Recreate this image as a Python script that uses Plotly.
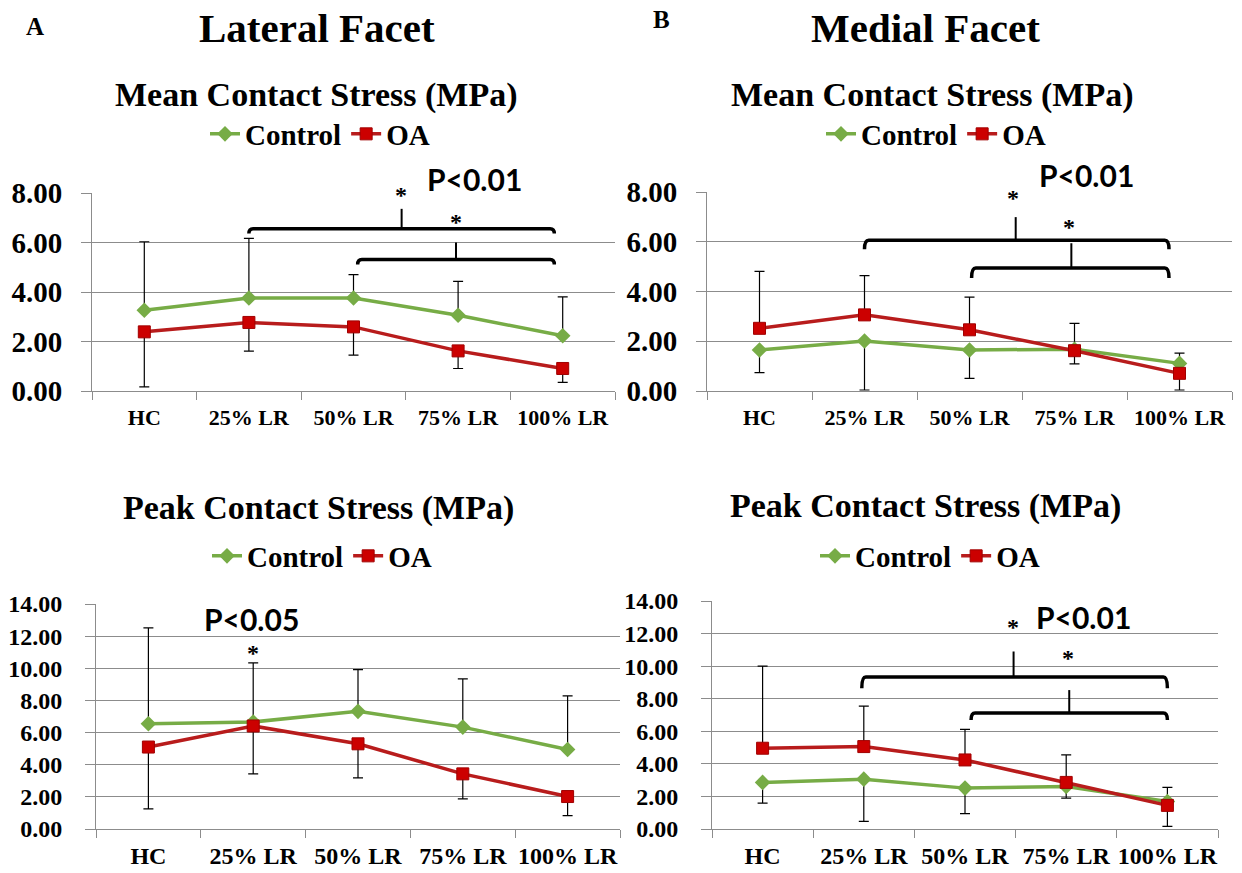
import plotly.graph_objects as go

# ---- data -------------------------------------------------------------
categories = ["HC", "25% LR", "50% LR", "75% LR", "100% LR"]

# Lateral facet, mean contact stress (MPa)
lat_mean_ctrl = [3.26, 3.76, 3.76, 3.06, 2.23]
lat_mean_oa = [2.39, 2.77, 2.59, 1.62, 0.91]
lat_mean_ctrl_up = [2.77, 2.41, 0.94, 1.37, 1.57]
lat_mean_ctrl_dn = [0, 0, 0, 0, 0]
lat_mean_oa_up = [0, 0, 0, 0, 0]
lat_mean_oa_dn = [2.22, 1.16, 1.14, 0.71, 0.56]

# Medial facet, mean contact stress (MPa)
med_mean_ctrl = [1.65, 2.01, 1.65, 1.68, 1.11]
med_mean_oa = [2.52, 3.06, 2.46, 1.62, 0.71]
med_mean_ctrl_up = [0, 0, 0, 1.04, 0.41]
med_mean_ctrl_dn = [0.91, 1.97, 1.14, 0, 0]
med_mean_oa_up = [2.29, 1.58, 1.31, 0, 0]
med_mean_oa_dn = [0, 0, 0, 0.53, 0.67]

# Lateral facet, peak contact stress (MPa)
lat_peak_ctrl = [6.55, 6.66, 7.32, 6.34, 4.95]
lat_peak_oa = [5.10, 6.41, 5.30, 3.43, 2.02]
lat_peak_ctrl_up = [5.97, 3.68, 2.60, 3.00, 3.33]
lat_peak_ctrl_dn = [0, 0, 0, 0, 0]
lat_peak_oa_up = [0, 0, 0, 0, 0]
lat_peak_oa_dn = [3.85, 2.98, 2.12, 1.56, 1.19]

# Medial facet, peak contact stress (MPa)
med_peak_ctrl = [2.86, 3.06, 2.51, 2.61, 1.69]
med_peak_oa = [4.96, 5.06, 4.24, 2.86, 1.45]
med_peak_ctrl_up = [0, 0, 0, 0, 0.86]
med_peak_ctrl_dn = [1.27, 2.59, 1.57, 0.71, 0]
med_peak_oa_up = [5.04, 2.49, 1.88, 1.69, 0]
med_peak_oa_dn = [0, 0, 0, 0, 1.29]

# significance brackets: (axis, left, right, level, hook end, spike x, spike top)
brackets = [
    ("", 1.00, 3.92, 6.56, 6.36, 2.46, 7.36),
    ("", 2.04, 3.92, 5.31, 5.11, 2.98, 6.00),
    ("2", 1.00, 3.90, 6.06, 5.70, 2.44, 6.99),
    ("2", 2.02, 3.90, 4.94, 4.54, 2.97, 5.94),
    ("4", 0.98, 4.00, 9.33, 8.65, 2.48, 10.90),
    ("4", 2.06, 4.00, 7.12, 6.69, 3.03, 8.53),
]
# asterisks: (axis, x, y)
stars = [
    ("", 2.45, 8.13), ("", 2.98, 7.04),
    ("2", 2.41, 7.95), ("2", 2.95, 6.79),
    ("3", 1.00, 11.25),
    ("4", 2.47, 12.70), ("4", 3.02, 10.80),
]
# p-value labels: (axis, text, x, y)
pvals = [
    ("", "P<0.01", 3.16, 8.57),
    ("2", "P<0.01", 3.11, 8.67),
    ("3", "P<0.05", 0.98, 13.06),
    ("4", "P<0.01", 3.17, 13.00),
]

# ---- styling ----------------------------------------------------------
GREEN = "#77AC46"
RED_LINE = "#B81C1C"
RED_MARK = "#CC0000"
GRID = "#8C8C8C"
SERIF = "Liberation Serif"

panels = [
    # (axis suffix, legend name, ctrl, ctrl_up, ctrl_dn, oa, oa_up, oa_dn)
    ("", "legend", lat_mean_ctrl, lat_mean_ctrl_up, lat_mean_ctrl_dn,
     lat_mean_oa, lat_mean_oa_up, lat_mean_oa_dn),
    ("2", "legend2", med_mean_ctrl, med_mean_ctrl_up, med_mean_ctrl_dn,
     med_mean_oa, med_mean_oa_up, med_mean_oa_dn),
    ("3", "legend3", lat_peak_ctrl, lat_peak_ctrl_up, lat_peak_ctrl_dn,
     lat_peak_oa, lat_peak_oa_up, lat_peak_oa_dn),
    ("4", "legend4", med_peak_ctrl, med_peak_ctrl_up, med_peak_ctrl_dn,
     med_peak_oa, med_peak_oa_up, med_peak_oa_dn),
]
y_max = {"": 8, "2": 8, "3": 14, "4": 14}

W, H = 1242, 873


def px_x(v):
    return v / W


def px_y(v):
    return 1 - v / H


# plot-area boxes in pixels: (left, right, top, bottom)
boxes = {
    "": (92, 615, 193, 391),
    "2": (707, 1232, 192, 391),
    "3": (96, 620, 604, 829),
    "4": (712, 1218, 601, 829),
}

fig = go.Figure()

for sfx, leg, c, cu, cd, o, ou, od in panels:
    err_style = dict(type="data", symmetric=False, color="black",
                     thickness=1.2, width=5)
    fig.add_trace(go.Scatter(
        x=categories, y=c, name="Control", mode="lines+markers",
        line=dict(color=GREEN, width=3.5),
        marker=dict(symbol="diamond", size=12, color=GREEN),
        error_y=dict(array=cu, arrayminus=cd, **err_style),
        xaxis="x" + sfx, yaxis="y" + sfx, legend=leg,
    ))
    fig.add_trace(go.Scatter(
        x=categories, y=o, name="OA", mode="lines+markers",
        line=dict(color=RED_LINE, width=3.5),
        marker=dict(symbol="square", size=12, color=RED_MARK,
                    line=dict(color="#A00000", width=1)),
        error_y=dict(array=ou, arrayminus=od, **err_style),
        xaxis="x" + sfx, yaxis="y" + sfx, legend=leg,
    ))

layout = dict(
    width=W, height=H, margin=dict(l=0, r=0, t=0, b=0),
    paper_bgcolor="white", plot_bgcolor="white",
    showlegend=True,
)

ytick_size = {"": 29, "2": 29, "3": 24, "4": 24}
xtick_size = {"": 22, "2": 22, "3": 24, "4": 24}
ytick_pad = {"": 13, "2": 13, "3": 18, "4": 18}
xtick_pad = {"": 7, "2": 7, "3": 5, "4": 5}
for sfx, (l, r, t, b) in boxes.items():
    layout["xaxis" + sfx] = dict(
        domain=[px_x(l), px_x(r)], anchor="y" + sfx,
        type="category", range=[-0.5, 4.5], tickson="boundaries",
        showline=True, linecolor=GRID, linewidth=1,
        ticks="outside", ticklen=8, tickcolor=GRID, tickwidth=1,
        showgrid=False, ticklabelstandoff=xtick_pad[sfx], tickangle=0,
        automargin=False,
        tickfont=dict(family=SERIF, size=xtick_size[sfx], color="black",
                      weight="bold"),
    )
    layout["yaxis" + sfx] = dict(
        domain=[px_y(b), px_y(t)], anchor="x" + sfx,
        range=[0, y_max[sfx]], dtick=2, tickformat=".2f",
        showline=True, linecolor=GRID, linewidth=1,
        ticks="outside", ticklen=10, tickcolor=GRID, tickwidth=1,
        showgrid=True, gridcolor=GRID, gridwidth=1, zeroline=False,
        ticklabelstandoff=ytick_pad[sfx], automargin=False,
        tickfont=dict(family=SERIF, size=ytick_size[sfx], color="black",
                      weight="bold"),
    )

legend_pos = {
    "legend": (320, 134), "legend2": (936, 134),
    "legend3": (322, 556), "legend4": (930, 556),
}
for name, (lx, ly) in legend_pos.items():
    layout[name] = dict(
        x=px_x(lx), y=px_y(ly), xanchor="center", yanchor="middle",
        orientation="h", bgcolor="rgba(0,0,0,0)", itemwidth=30,
        font=dict(family=SERIF, size=29, color="black", weight="bold"),
    )

fig.update_layout(**layout)

# ---- titles -------------------------------------------------------------
titles = [
    ("A", 35, 26, 25), ("B", 661, 19, 25),
    ("Lateral Facet", 317, 28, 41), ("Medial Facet", 925, 28, 41),
    ("Mean Contact Stress (MPa)", 316, 95, 34),
    ("Mean Contact Stress (MPa)", 932, 95, 34),
    ("Peak Contact Stress (MPa)", 318, 508, 34),
    ("Peak Contact Stress (MPa)", 925, 506, 34),
]
for text, tx, ty, size in titles:
    fig.add_annotation(
        text=text, x=px_x(tx), y=px_y(ty), xref="paper", yref="paper",
        xanchor="center", yanchor="middle", showarrow=False,
        font=dict(family=SERIF, size=size, color="black", weight="bold"),
    )

# ---- significance markers ----------------------------------------------
for sfx, x0, x1, yl, yh, xs, ys in brackets:
    d = 0.04
    path = (f"M {x0},{yh} Q {x0},{yl} {x0 + d},{yl} "
            f"L {x1 - d},{yl} Q {x1},{yl} {x1},{yh}")
    fig.add_shape(type="path", path=path, xref="x" + sfx, yref="y" + sfx,
                  line=dict(color="black", width=3.5))
    fig.add_shape(type="line", x0=xs, x1=xs, y0=yl, y1=ys,
                  xref="x" + sfx, yref="y" + sfx,
                  line=dict(color="black", width=2))

# labels above the plot top are placed on the axis-domain scale so they stay
# visible outside the y range
for sfx, sx, sy in stars:
    fig.add_annotation(
        text="*", x=sx, y=sy / y_max[sfx], xref="x" + sfx,
        yref="y" + sfx + " domain",
        xanchor="center", yanchor="middle", showarrow=False, yshift=-5,
        font=dict(family=SERIF, size=24, color="black", weight="bold"),
    )

for sfx, text, px, py in pvals:
    fig.add_annotation(
        text=text, x=px, y=py / y_max[sfx], xref="x" + sfx,
        yref="y" + sfx + " domain",
        xanchor="center", yanchor="middle", showarrow=False,
        font=dict(family="Lato", size=30, color="black", weight="bold"),
    )

fig.write_html("out.html")
